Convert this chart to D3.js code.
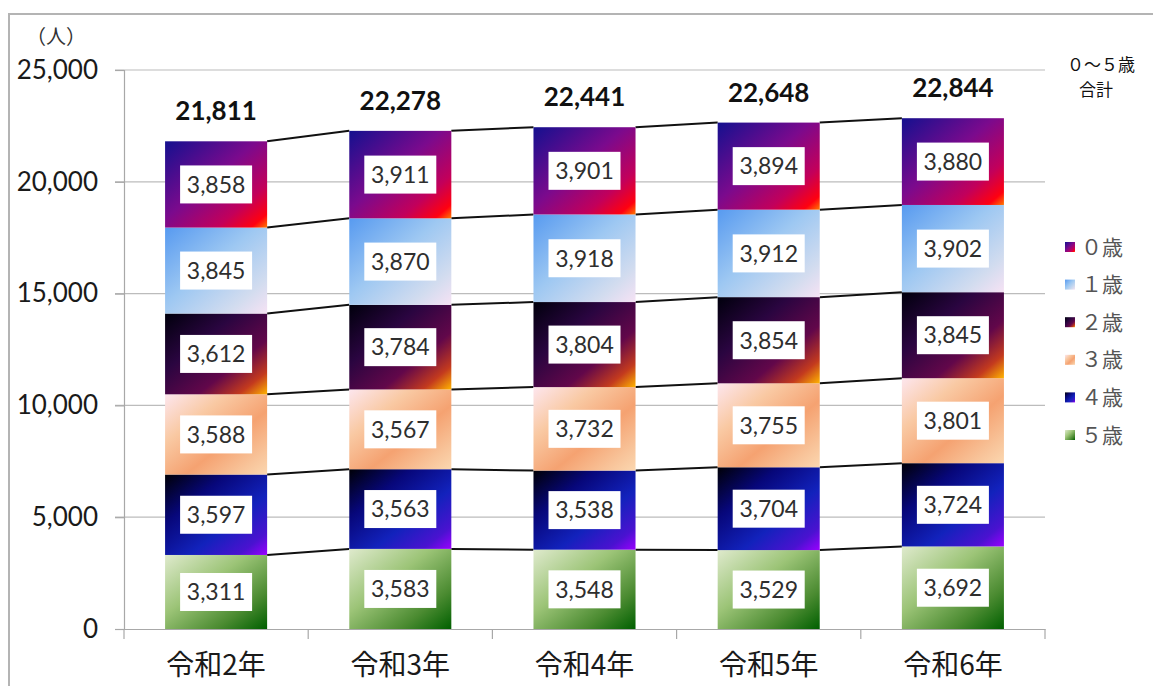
<!DOCTYPE html>
<html>
<head>
<meta charset="utf-8">
<script src="https://cdn.jsdelivr.net/npm/d3@7"></script>
<style>
  body { margin: 0; background: #fff; }
  svg { display: block; }
  .num { font-family: Lato, "Liberation Sans", sans-serif; }
  .jp { font-family: "Noto Sans CJK JP", sans-serif; }
</style>
</head>
<body>
<svg width="1153" height="686"></svg>
<script>
// data
var years = ["令和2年", "令和3年", "令和4年", "令和5年", "令和6年"];
var seriesNames = ["５歳", "４歳", "３歳", "２歳", "１歳", "０歳"]; // stack order, bottom first
var age5 = [3311, 3583, 3548, 3529, 3692];
var age4 = [3597, 3563, 3538, 3704, 3724];
var age3 = [3588, 3567, 3732, 3755, 3801];
var age2 = [3612, 3784, 3804, 3854, 3845];
var age1 = [3845, 3870, 3918, 3912, 3902];
var age0 = [3858, 3911, 3901, 3894, 3880];
var yTicks = [0, 5000, 10000, 15000, 20000, 25000];

var seriesValues = [age5, age4, age3, age2, age1, age0];

// gradient stops per series (same order as seriesNames)
var gradients = [
  [[0, "#dfeacd"], [0.4, "#9cc477"], [0.75, "#4b8b31"], [1, "#005f00"]],
  [[0, "#000006"], [0.3, "#07077a"], [0.62, "#1222bc"], [0.86, "#4a12d0"], [1, "#9a00ff"]],
  [[0, "#fde6ee"], [0.3, "#f9c9a3"], [0.6, "#f5a271"], [0.85, "#f8c49a"], [1, "#fbd7b0"]],
  [[0, "#00000c"], [0.35, "#2a0540"], [0.66, "#62074a"], [0.86, "#c33a1e"], [1, "#ffb400"]],
  [[0, "#579af0"], [0.45, "#9ec8f2"], [0.8, "#d2dcef"], [1, "#f6e2f4"]],
  [[0, "#14108f"], [0.45, "#7b0a8d"], [0.75, "#c2005b"], [0.92, "#ff0010"], [1, "#ff7a00"]]
];

var svg = d3.select("svg");

// outer frame
svg.append("rect")
  .attr("x", 9).attr("y", 14)
  .attr("width", 1200).attr("height", 700)
  .attr("fill", "none")
  .attr("stroke", "#b4b4b4")
  .attr("stroke-width", 2);

var defs = svg.append("defs");
gradients.forEach(function(stops, i) {
  var g = defs.append("linearGradient")
    .attr("id", "grad" + i)
    .attr("x1", 0).attr("y1", 0).attr("x2", 1).attr("y2", 1);
  stops.forEach(function(s) {
    g.append("stop").attr("offset", s[0]).attr("stop-color", s[1]);
  });
});

var x = d3.scaleBand().domain(years).range([124, 1045]).paddingInner(0.446).paddingOuter(0.223);
var y = d3.scaleLinear().domain([0, 25000]).range([629, 70]);

// build stacked table
var table = years.map(function(yr, j) {
  var row = { year: yr };
  seriesNames.forEach(function(n, i) { row[n] = seriesValues[i][j]; });
  return row;
});
var stacked = d3.stack().keys(seriesNames)(table);

// gridlines
svg.append("g")
  .selectAll("line")
  .data(yTicks.filter(function(d) { return d > 0; }))
  .enter()
  .append("line")
    .attr("x1", 115).attr("x2", 1045)
    .attr("y1", function(d) { return y(d); })
    .attr("y2", function(d) { return y(d); })
    .attr("stroke", "#bcbcbc")
    .attr("stroke-width", 1.2);

// y axis
var yAxis = svg.append("g")
  .attr("transform", "translate(124,0)")
  .call(d3.axisLeft(y).tickValues(yTicks).tickSize(9).tickPadding(17).tickFormat(d3.format(",")));
yAxis.select(".domain").attr("stroke", "#a8a8a8").attr("stroke-width", 1.2);
yAxis.selectAll(".tick line").attr("stroke", "#a8a8a8").attr("stroke-width", 1.2);
yAxis.selectAll("text")
  .attr("class", "num")
  .style("font-size", "26px")
  .attr("fill", "#1a1a1a");

// x axis
var xAxis = svg.append("g")
  .attr("transform", "translate(0,629)")
  .call(d3.axisBottom(x).tickSize(0).tickPadding(26));
xAxis.select(".domain").attr("stroke", "#a8a8a8").attr("stroke-width", 1.2);
xAxis.selectAll("text")
  .attr("class", "jp")
  .style("font-size", "28px")
  .attr("fill", "#1a1a1a");
// tick marks between categories
var step = x.step();
svg.append("g")
  .selectAll("line")
  .data(d3.range(years.length + 1))
  .enter()
  .append("line")
    .attr("x1", function(i) { return 124 + i * step; })
    .attr("x2", function(i) { return 124 + i * step; })
    .attr("y1", 629).attr("y2", 639)
    .attr("stroke", "#a8a8a8")
    .attr("stroke-width", 1.2);

// connector lines between bars
var connectors = [];
stacked.forEach(function(layer) {
  for (var j = 0; j < years.length - 1; j++) {
    connectors.push({ a: years[j], b: years[j + 1], v0: layer[j][1], v1: layer[j + 1][1] });
  }
});
svg.append("g")
  .selectAll("line")
  .data(connectors)
  .enter()
  .append("line")
    .attr("x1", function(d) { return x(d.a) + x.bandwidth(); })
    .attr("x2", function(d) { return x(d.b); })
    .attr("y1", function(d) { return y(d.v0); })
    .attr("y2", function(d) { return y(d.v1); })
    .attr("stroke", "#111")
    .attr("stroke-width", 2);

// bars
var layers = svg.append("g")
  .selectAll("g")
  .data(stacked)
  .enter()
  .append("g")
    .attr("fill", function(d, i) { return "url(#grad" + i + ")"; });

layers.selectAll("rect")
  .data(function(d) { return d; })
  .enter()
  .append("rect")
    .attr("x", function(d) { return x(d.data.year); })
    .attr("y", function(d) { return y(d[1]); })
    .attr("width", x.bandwidth())
    .attr("height", function(d) { return y(d[0]) - y(d[1]); });

// value boxes
var boxW = 72, boxH = 38;
var labels = svg.append("g");
stacked.forEach(function(layer) {
  layer.forEach(function(d) {
    var cx = x(d.data.year) + x.bandwidth() / 2;
    var cy = (y(d[0]) + y(d[1])) / 2;
    labels.append("rect")
      .attr("x", cx - boxW / 2).attr("y", cy - boxH / 2)
      .attr("width", boxW).attr("height", boxH)
      .attr("fill", "#fff");
    labels.append("text")
      .attr("class", "num")
      .attr("x", cx).attr("y", cy)
      .attr("dy", "0.36em")
      .attr("text-anchor", "middle")
      .style("font-size", "23px")
      .attr("fill", "#2e2e2e")
      .text(d3.format(",")(d[1] - d[0]));
  });
});

// totals on top of each bar
var topLayer = stacked[stacked.length - 1];
svg.append("g")
  .selectAll("text")
  .data(topLayer)
  .enter()
  .append("text")
    .attr("class", "num")
    .attr("x", function(d) { return x(d.data.year) + x.bandwidth() / 2; })
    .attr("y", function(d) { return y(d[1]) - 21; })
    .attr("text-anchor", "middle")
    .style("font-size", "26px")
    .style("font-weight", 700)
    .attr("fill", "#111")
    .text(function(d) { return d3.format(",")(d[1]); });

// unit label
svg.append("text")
  .attr("class", "jp")
  .attr("x", 56).attr("y", 44)
  .attr("text-anchor", "middle")
  .style("font-size", "20px")
  .attr("fill", "#333")
  .text("（人）");

// total caption
svg.append("text")
  .attr("class", "jp")
  .attr("x", 1101).attr("y", 71)
  .attr("text-anchor", "middle")
  .style("font-size", "17px")
  .attr("fill", "#111")
  .text("０～５歳");
svg.append("text")
  .attr("class", "jp")
  .attr("x", 1096).attr("y", 96)
  .attr("text-anchor", "middle")
  .style("font-size", "17px")
  .attr("fill", "#111")
  .text("合計");

// legend (top item is 0歳)
var legendNames = seriesNames.slice().reverse();
var legend = svg.append("g");
legend.selectAll("rect")
  .data(legendNames)
  .enter()
  .append("rect")
    .attr("x", 1065)
    .attr("y", function(d, i) { return 242 + i * 37.6; })
    .attr("width", 10).attr("height", 10)
    .attr("fill", function(d) { return "url(#grad" + seriesNames.indexOf(d) + ")"; });
legend.selectAll("text")
  .data(legendNames)
  .enter()
  .append("text")
    .attr("class", "jp")
    .attr("x", 1081)
    .attr("y", function(d, i) { return 247 + i * 37.6; })
    .attr("dy", "0.36em")
    .style("font-size", "21px")
    .attr("fill", "#555")
    .text(function(d) { return d; });
</script>
</body>
</html>
